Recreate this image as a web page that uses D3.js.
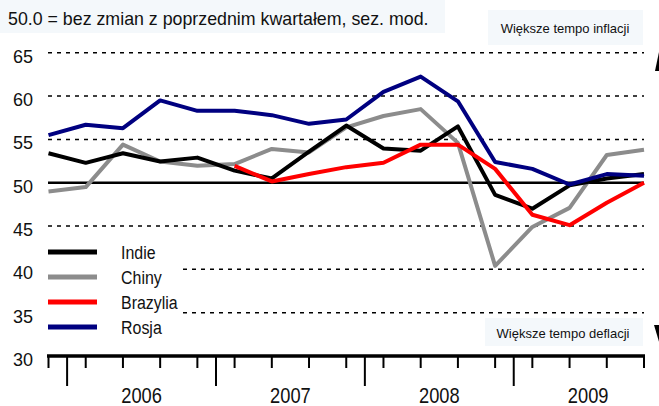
<!DOCTYPE html>
<html>
<head>
<meta charset="utf-8">
<script src="https://cdn.jsdelivr.net/npm/d3@7"></script>
<style>
  body { margin: 0; background: white; }
  text { font-family: "Liberation Sans", Arial, sans-serif; }
</style>
</head>
<body>
<script>
// quarters 2005Q4 .. 2009Q4
const quarters = ["2005Q4",
  "2006Q1", "2006Q2", "2006Q3", "2006Q4",
  "2007Q1", "2007Q2", "2007Q3", "2007Q4",
  "2008Q1", "2008Q2", "2008Q3", "2008Q4",
  "2009Q1", "2009Q2", "2009Q3", "2009Q4"];
const years = ["2006", "2007", "2008", "2009"];
const yTicks = [30, 35, 40, 45, 50, 55, 60, 65];

const indie    = [53.4, 52.3, 53.4, 52.45, 52.9, 51.4, 50.5, 53.6, 56.6, 53.95, 53.7, 56.5, 48.6, 47.0, 49.7, 50.5, 51.0];
const chiny    = [49.0, 49.5, 54.4, 52.45, 51.95, 52.15, 53.9, 53.5, 56.4, 57.7, 58.5, 54.6, 40.4, 44.9, 47.1, 53.2, 53.8];
const brazylia = [null, null, null, null, null, 51.95, 50.15, 51.0, 51.8, 52.3, 54.4, 54.4, 51.6, 46.3, 45.1, 47.7, 50.0];
const rosja    = [55.5, 56.7, 56.3, 59.5, 58.3, 58.3, 57.8, 56.8, 57.3, 60.5, 62.25, 59.4, 52.4, 51.6, 49.8, 51.0, 50.8];

const seriesNames = ["Indie", "Chiny", "Brazylia", "Rosja"];
const seriesColors = ["#000000", "#8c8c8c", "#ff0000", "#000080"];

const title = "50.0 = bez zmian z poprzednim kwartałem, sez. mod.";
const noteTop = "Większe tempo inflacji";
const noteBottom = "Większe tempo deflacji";

const svgWidth = 659;
const svgHeight = 406;

let svg = d3.select("body")
  .append("svg")
  .attr("width", svgWidth)
  .attr("height", svgHeight)
  .style("background-color", "white");

// scales
const xScale = d3.scalePoint().domain(quarters).range([48.5, 644]);
const yScale = d3.scaleLinear().domain([30, 65]).range([356, 52.8]);

// title box
svg.append("rect")
  .attr("x", 0).attr("y", 0).attr("width", 445).attr("height", 33)
  .attr("fill", "#f4f8fb");
svg.append("text")
  .attr("x", 8).attr("y", 25)
  .attr("font-size", 17.8)
  .attr("fill", "#111")
  .text(title);

// dashed gridlines
svg.append("g")
  .selectAll("line")
  .data(yTicks.filter(d => d > 30 && d !== 50))
  .join("line")
    .attr("x1", 48).attr("x2", 644)
    .attr("y1", d => yScale(d)).attr("y2", d => yScale(d))
    .attr("stroke", "black")
    .attr("stroke-width", 1.5)
    .attr("stroke-dasharray", "4,5");

// y labels
svg.append("g")
  .selectAll("text")
  .data(yTicks)
  .join("text")
    .attr("x", 33)
    .attr("y", d => yScale(d) + 10)
    .attr("text-anchor", "end")
    .attr("font-size", 18)
    .attr("fill", "#111")
    .text(d => d);

// 50 line
svg.append("line")
  .attr("x1", 48).attr("x2", 644)
  .attr("y1", yScale(50)).attr("y2", yScale(50))
  .attr("stroke", "black")
  .attr("stroke-width", 2.5);

// series lines
const allSeries = [indie, chiny, brazylia, rosja];
const drawOrder = [1, 0, 2, 3];
const line = d3.line()
  .defined(d => d.v != null)
  .x(d => xScale(d.q))
  .y(d => yScale(d.v));

drawOrder.forEach(function(k) {
  svg.append("path")
    .datum(quarters.map((q, i) => ({q: q, v: allSeries[k][i]})))
    .attr("fill", "none")
    .attr("stroke", seriesColors[k])
    .attr("stroke-width", 4)
    .attr("stroke-linejoin", "round")
    .attr("d", line);
});

// legend (white box hides gridlines)
svg.append("rect")
  .attr("x", 44).attr("y", 238).attr("width", 137).attr("height", 100)
  .attr("fill", "white");
let legend = svg.append("g")
  .selectAll("g")
  .data(seriesNames)
  .join("g")
    .attr("transform", (d, i) => "translate(0," + (252 + i * 25) + ")");
legend.append("line")
  .attr("x1", 48).attr("x2", 97)
  .attr("stroke", (d, i) => seriesColors[i])
  .attr("stroke-width", 5);
legend.append("text")
  .attr("transform", "translate(121,7) scale(0.84,1)")
  .attr("font-size", 19)
  .attr("fill", "#111")
  .text(d => d);

// note boxes
svg.append("rect")
  .attr("x", 488).attr("y", 10).attr("width", 155).attr("height", 35)
  .attr("fill", "#f4f8fb");
svg.append("text")
  .attr("x", 565).attr("y", 33)
  .attr("text-anchor", "middle")
  .attr("font-size", 13)
  .attr("fill", "#111")
  .text(noteTop);
svg.append("rect")
  .attr("x", 485).attr("y", 318).attr("width", 158).attr("height", 28)
  .attr("fill", "#f4f8fb");
svg.append("text")
  .attr("x", 563).attr("y", 338)
  .attr("text-anchor", "middle")
  .attr("font-size", 13)
  .attr("fill", "#111")
  .text(noteBottom);

// x axis
svg.append("line")
  .attr("x1", 47).attr("x2", 645)
  .attr("y1", 356).attr("y2", 356)
  .attr("stroke", "black")
  .attr("stroke-width", 3.5);
svg.append("g")
  .selectAll("line")
  .data(quarters)
  .join("line")
    .attr("x1", d => xScale(d)).attr("x2", d => xScale(d))
    .attr("y1", 356).attr("y2", 368)
    .attr("stroke", "black")
    .attr("stroke-width", 2);

// year boundaries and labels
const step = xScale.step();
svg.append("g")
  .selectAll("line")
  .data(years)
  .join("line")
    .attr("x1", d => xScale(d + "Q1") - step / 2)
    .attr("x2", d => xScale(d + "Q1") - step / 2)
    .attr("y1", 356).attr("y2", 386)
    .attr("stroke", "black")
    .attr("stroke-width", 2);
svg.append("g")
  .selectAll("text")
  .data(years)
  .join("text")
    .attr("transform", d => "translate(" + ((xScale(d + "Q1") + xScale(d + "Q4")) / 2) + ",403) scale(0.85,1)")
    .attr("text-anchor", "middle")
    .attr("font-size", 21.5)
    .attr("fill", "#111")
    .text(d => d);

// cut-off arrows at right edge
svg.append("path")
  .attr("d", "M659,52 L655,71 L659,71 Z")
  .attr("fill", "black");
svg.append("path")
  .attr("d", "M654,325 L660,325 L660,345 Z")
  .attr("fill", "black");
</script>
</body>
</html>
